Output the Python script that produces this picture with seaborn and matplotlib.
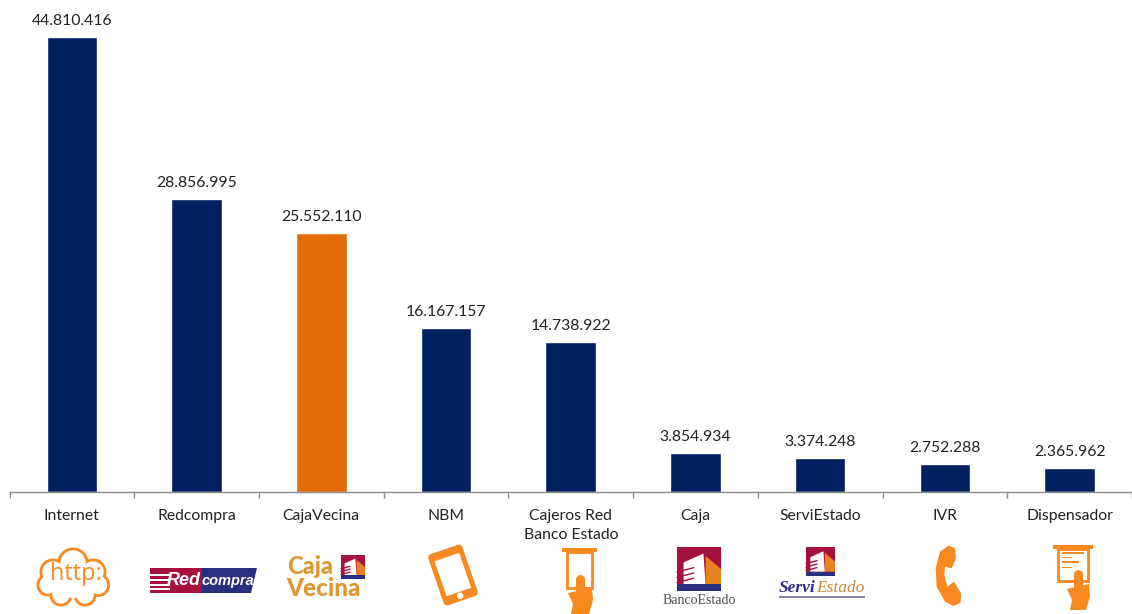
import matplotlib
matplotlib.use("Agg")
import matplotlib.pyplot as plt
import matplotlib.patches as mp
import matplotlib.transforms as mt
import pandas as pd
import seaborn as sns

categories = ["Internet", "Redcompra", "CajaVecina", "NBM", "Cajeros Red\nBanco Estado",
              "Caja", "ServiEstado", "IVR", "Dispensador"]
values = [44810416, 28856995, 25552110, 16167157, 14738922, 3854934, 3374248, 2752288, 2365962]
highlight = "CajaVecina"

NAVY, BAR_ORANGE, ICON, TEXT, AXIS = "#002060", "#E36C09", "#F7891F", "#222222", "#8C8C8C"
RED, LOGO_NAVY, LOGO_ORANGE = "#A6123F", "#2B2F7F", "#E8821E"
W, H = 1132, 614

sns.set_theme(style="white")
plt.rcParams["font.family"] = ["Lato", "DejaVu Sans"]

fig = plt.figure(figsize=(W / 100, H / 100), dpi=100, facecolor="white")
ax = fig.add_axes([9.5 / W, (H - 492) / H, (W - 9.5) / W, 492 / H])

df = pd.DataFrame({"category": categories, "value": values})
palette = {c: (BAR_ORANGE if c == highlight else NAVY) for c in categories}
sns.barplot(data=df, x="category", y="value", hue="category", palette=palette,
            width=0.405, legend=False, dodge=False, saturation=1, ax=ax)

px_per_unit = 455 / values[0]
ax.set_ylim(0, 492 / px_per_unit)
ax.set_xlim(-0.5, -0.5 + (W - 9.5) / 125)
ax.set_xlabel("")
ax.set_ylabel("")
ax.set_yticks([])
for s in ("top", "left", "right"):
    ax.spines[s].set_visible(False)
ax.spines["bottom"].set_color(AXIS)
ax.spines["bottom"].set_linewidth(1.0)
ax.patch.set_alpha(0)

ax.set_xticks(range(len(categories)))
ax.set_xticklabels(categories, fontsize=11.3, color=TEXT, linespacing=1.42, va="top")
ax.set_xticks([i - 0.5 for i in range(len(categories) + 1)], minor=True)
ax.tick_params(axis="x", which="major", length=0, pad=12.5, bottom=False)
ax.tick_params(axis="x", which="minor", length=4.5, width=1, color=AXIS, bottom=True)

for container in ax.containers:
    labels = [f"{v:,.0f}".replace(",", ".") for v in container.datavalues]
    ax.bar_label(container, labels=labels, padding=6.5, fontsize=11.3, color=TEXT)

# Overlay in pixel coordinates for the decorative logos under the axis
ov = fig.add_axes([0, 0, 1, 1], facecolor="none")
ov.set_xlim(0, W)
ov.set_ylim(H, 0)
ov.axis("off")


def poly(pts, color, **kw):
    ov.add_patch(mp.Polygon(pts, closed=True, facecolor=color, edgecolor="none", **kw))


def rect(x0, y0, x1, y1, color, **kw):
    ov.add_patch(mp.Rectangle((x0, y0), x1 - x0, y1 - y0, facecolor=color, edgecolor="none", **kw))


def stroke(xs, ys, color, lw):
    ov.plot(xs, ys, color=color, lw=lw, solid_capstyle="round", solid_joinstyle="round")


def building(x0, y0, x1, y1):
    w, h = x1 - x0, y1 - y0
    rect(x0, y0, x1, y1, RED)
    poly([(x0 + .15 * w, y0 + .85 * h), (x0 + .15 * w, y0 + .35 * h), (x0 + .6 * w, y0 + .15 * h),
          (x0 + .65 * w, y0 + .85 * h)], "white")
    poly([(x0 + .65 * w, y0 + .2 * h), (x1, y0 + .5 * h), (x1, y0 + .85 * h), (x0 + .65 * w, y0 + .85 * h)],
         LOGO_ORANGE)
    rect(x0, y0 + .85 * h, x1, y1, LOGO_NAVY)
    for f in (.5, .62, .74):
        stroke([x0, x0 + .38 * w], [y0 + (f + .07) * h, y0 + (f - .03) * h], RED, 1.0)


def hand(cx, top, body_top, bottom, half):
    stroke([cx, cx], [top, body_top + 6], ICON, 6.5)
    poly([(cx - half, body_top + 5), (cx + half, body_top), (cx + half + 1, body_top + 12),
          (cx + half - 3, bottom), (cx - half + 3, bottom), (cx - half + 5, body_top + 16)], ICON)


# Internet: cloud
cloud = [(73, 563, 15.5), (53, 572, 13.5), (93, 572, 13.5), (48, 585, 11.5), (98, 585, 12),
         (61, 595, 11.5), (85, 595, 11.5)]
for cx, cy, r in cloud:
    ov.add_patch(mp.Circle((cx, cy), r, color=ICON, lw=0))
for cx, cy, r in cloud:
    ov.add_patch(mp.Circle((cx, cy), r - 2.8, color="white", lw=0))
ov.add_patch(mp.Circle((73, 579), 19, color="white", lw=0))
ov.text(76, 574, "http:", color=ICON, fontsize=17, ha="center", va="center", family="Open Sans")

# Redcompra
poly([(150, 568), (202, 568), (202, 593), (150, 593)], RED)
poly([(202, 568), (257, 568), (251, 593), (202, 593)], LOGO_NAVY)
for y in (574, 579, 584, 588):
    rect(150, y, 170, y + 1.5, "white")
ov.text(184, 580.5, "Red", color="white", fontsize=13, style="italic", weight="bold",
        ha="center", va="center", family="Liberation Sans")
ov.text(228, 581, "compra", color="white", fontsize=10.5, style="italic", weight="bold",
        ha="center", va="center", family="Liberation Sans")

# Caja Vecina
ov.text(287, 566.5, "Caja", color="#E0962E", fontsize=17, weight="black", ha="left", va="center",
        family="Lato")
ov.text(286, 589, "Vecina", color="#E0962E", fontsize=17.5, weight="black", ha="left", va="center",
        family="Lato")
building(341, 555, 365, 579)

# NBM: tilted phone
tr = mt.Affine2D().rotate_deg_around(453, 575, -19) + ov.transData
ov.add_patch(mp.FancyBboxPatch((435, 548), 36, 54, boxstyle="round,pad=0,rounding_size=4",
                               facecolor=ICON, edgecolor="none", transform=tr))
ov.add_patch(mp.Rectangle((440, 556), 26, 37, facecolor="white", edgecolor="none", transform=tr))
ov.add_patch(mp.Circle((453, 597), 2.5, color="white", transform=tr))

# Cajeros: ATM slot and hand
rect(562, 548, 597, 552, ICON)
ov.add_patch(mp.Rectangle((567, 552), 25, 36, facecolor="white", edgecolor=ICON, lw=2))
hand(580, 579, 588, 614, 12)

# Caja: BancoEstado
building(677, 547, 721, 591)
ov.text(699.5, 600.5, "BancoEstado", color="#4A4B50", fontsize=10, family="Liberation Serif",
        ha="center", va="center")

# ServiEstado
building(806, 547, 835, 576)
ov.text(779, 588, "Servi", color=LOGO_NAVY, fontsize=12.5, family="Liberation Serif", style="italic",
        weight="bold", ha="left", va="center")
ov.text(816, 588, "Estado", color="#C98A3C", fontsize=12.5, family="Liberation Serif", style="italic",
        ha="left", va="center")
rect(779, 596, 865, 597.5, "#8A86A8")

# IVR: handset
handset = [(595, 197), (570, 215), (557, 265), (560, 320), (585, 365), (610, 378), (632, 368),
           (633, 340), (612, 305), (592, 320), (583, 285), (585, 260), (605, 265), (618, 235), (615, 205)]
poly([(750 + x / 3, 480 + y / 3) for x, y in handset], ICON)

# Dispensador: receipt and hand
rect(1053, 545, 1093, 549, ICON)
ov.add_patch(mp.Rectangle((1058, 549), 30, 32, facecolor="white", edgecolor=ICON, lw=2))
for x1, y in [(1084, 552), (1072, 556.5), (1079, 561), (1072, 566.5)]:
    rect(1062, y, x1, y + 1.5, ICON)
hand(1078, 574, 584, 610, 11)

fig.savefig("out.png", dpi=100, facecolor="white")
